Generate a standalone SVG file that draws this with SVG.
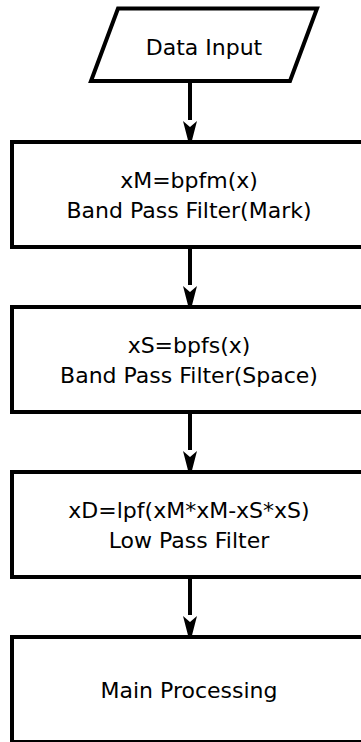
<svg xmlns="http://www.w3.org/2000/svg" width="361" height="742" viewBox="0 0 361 742">
<defs>
<style>
.shape{fill:#ffffff;stroke:#000000;stroke-width:4;stroke-linejoin:miter}
.edge{fill:none;stroke:#000000;stroke-width:4}
.label{font-family:"DejaVu Sans",Verdana,sans-serif;font-size:22px;fill:#000000;text-anchor:middle}
</style>
<marker id="arrow" markerUnits="userSpaceOnUse" markerWidth="16" markerHeight="30" viewBox="0 0 16 30" refX="8" refY="28" orient="auto-start-reverse">
<path d="M8,28 L1,2 L8,8 L15,2 Z" fill="#000000"/>
</marker>
</defs>
<rect width="361" height="742" fill="#ffffff"/>
<g id="connectors">
<line class="edge" x1="190" y1="81" x2="190" y2="120"/>
<path d="M190,148 L183,121 L190,127 L197,121 Z" fill="#000"/>
<line class="edge" x1="190" y1="247" x2="190" y2="285"/>
<path d="M190,313 L183,286 L190,292 L197,286 Z" fill="#000"/>
<line class="edge" x1="190" y1="412" x2="190" y2="450"/>
<path d="M190,478 L183,451 L190,457 L197,451 Z" fill="#000"/>
<line class="edge" x1="190" y1="577" x2="190" y2="615"/>
<path d="M190,643 L183,616 L190,622 L197,616 Z" fill="#000"/>
</g>
<g id="data-input">
<polygon class="shape" points="118,8.5 317,8.5 290,81 91,81"/>
<text class="label" x="204" y="54.5">Data Input</text>
</g>
<g id="bpf-mark">
<rect class="shape" x="12" y="142" width="356" height="105"/>
<text class="label" x="189" y="188">xM=bpfm(x)</text>
<text class="label" x="189" y="218">Band Pass Filter(Mark)</text>
</g>
<g id="bpf-space">
<rect class="shape" x="12" y="307" width="356" height="105"/>
<text class="label" x="189" y="353">xS=bpfs(x)</text>
<text class="label" x="189" y="383">Band Pass Filter(Space)</text>
</g>
<g id="lpf">
<rect class="shape" x="12" y="472" width="356" height="105"/>
<text class="label" x="189" y="518">xD=lpf(xM*xM-xS*xS)</text>
<text class="label" x="189" y="548">Low Pass Filter</text>
</g>
<g id="main">
<rect class="shape" x="12" y="637" width="356" height="105"/>
<text class="label" x="189" y="698">Main Processing</text>
</g>
</svg>
